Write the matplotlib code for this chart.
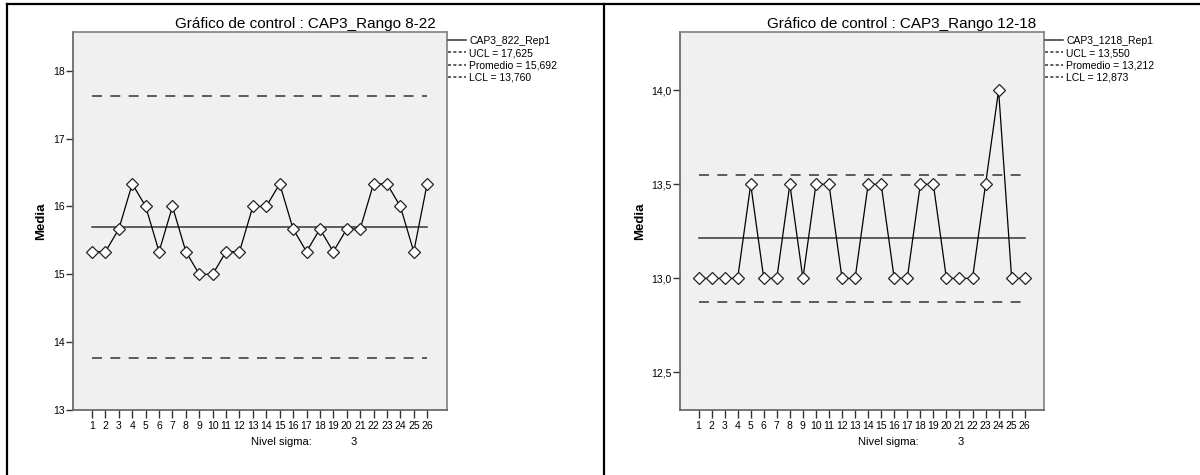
import numpy as np
import matplotlib
matplotlib.use("Agg")
import matplotlib.pyplot as plt
from matplotlib.lines import Line2D

plt.rcParams['font.family'] = ['Liberation Sans', 'DejaVu Sans']
NARROW = ['Liberation Sans Narrow', 'Liberation Sans', 'DejaVu Sans']

# data
muestras = list(range(1, 27))

titulo_a = 'Gráfico de control : CAP3_Rango 8-22'
serie_a = 'CAP3_822_Rep1'
media_a = [15.333, 15.333, 15.667, 16.333, 16.0, 15.333, 16.0, 15.333, 15.0, 15.0,
           15.333, 15.333, 16.0, 16.0, 16.333, 15.667, 15.333, 15.667, 15.333, 15.667,
           15.667, 16.333, 16.333, 16.0, 15.333, 16.333]
ucl_a, prom_a, lcl_a = 17.625, 15.692, 13.760
yticks_a = [13, 14, 15, 16, 17, 18]
ytlab_a = ['13', '14', '15', '16', '17', '18']

titulo_b = 'Gráfico de control : CAP3_Rango 12-18'
serie_b = 'CAP3_1218_Rep1'
media_b = [13.0, 13.0, 13.0, 13.0, 13.5, 13.0, 13.0, 13.5, 13.0, 13.5,
           13.5, 13.0, 13.0, 13.5, 13.5, 13.0, 13.0, 13.5, 13.5, 13.0,
           13.0, 13.0, 13.5, 14.0, 13.0, 13.0]
ucl_b, prom_b, lcl_b = 13.550, 13.212, 12.873
yticks_b = [12.5, 13.0, 13.5, 14.0]
ytlab_b = ['12,5', '13,0', '13,5', '14,0']

sigma = 3

W, H = 1200, 475
fig = plt.figure(figsize=(W / 100, H / 100), dpi=100)


def fx(px):
    return px / W


def fy(py):
    return 1 - py / H


def coma(v):
    return f'{v:.3f}'.replace('.', ',')


def panel(x0, ax_l, ax_r, titulo, serie, vals, ucl, prom, lcl, ylim, yt, ytl):
    ax = fig.add_axes([fx(ax_l), fy(410), fx(ax_r - ax_l), fy(32) - fy(410)])
    ax.set_facecolor('#f0f0f0')
    x = np.array(muestras)
    dash = (0, (6.5, 5.5))
    ax.plot([x[0], x[-1]], [ucl, ucl], color='#333333', lw=1.1, ls=dash)
    ax.plot([x[0], x[-1]], [lcl, lcl], color='#333333', lw=1.1, ls=dash)
    ax.plot([x[0], x[-1]], [prom, prom], color='#333333', lw=1.1)
    ax.plot(x, vals, color='black', lw=0.9, marker='D', ms=6.3,
            mfc='white', mec='#222222', mew=0.9, zorder=3)
    ax.set_xlim(-0.42, 27.48)
    ax.set_ylim(*ylim)
    ax.set_xticks(x)
    ax.set_xticklabels([str(i) for i in x], fontsize=7.5, family=NARROW)
    ax.set_yticks(yt)
    ax.set_yticklabels(ytl, fontsize=7.5, family=NARROW)
    ax.tick_params(axis='x', length=6, width=1, color='#333333', pad=2)
    ax.tick_params(axis='y', length=5, width=1, color='#333333', pad=1)
    for k, s in ax.spines.items():
        s.set_color('#606060' if k in ('left', 'bottom') else '#808080')
        s.set_linewidth(1.2)
    ax.set_ylabel('Media', fontsize=9.5, fontweight='bold', labelpad=4)
    # title centered on the panel
    fig.text(fx(x0 + 298), fy(24), titulo, ha='center', va='center', fontsize=11)
    fig.text(fx(ax_l + 178), fy(442), 'Nivel sigma:', ha='left', va='center',
             fontsize=8, family=NARROW)
    fig.text(fx(ax_l + 281), fy(442), str(sigma), ha='center', va='center',
             fontsize=8, family=NARROW)
    handles = [Line2D([], [], color='#333333', lw=1.1),
               Line2D([], [], color='#333333', lw=1.1, ls=(0, (2, 1.5))),
               Line2D([], [], color='#333333', lw=1.1, ls=(0, (2, 1.5))),
               Line2D([], [], color='#333333', lw=1.1, ls=(0, (2, 1.5)))]
    labels = [serie, 'UCL = ' + coma(ucl), 'Promedio = ' + coma(prom),
              'LCL = ' + coma(lcl)]
    fig.legend(handles, labels, loc='upper left',
               bbox_to_anchor=(fx(ax_r + 1), fy(36)), frameon=False,
               handlelength=1.7, handletextpad=0.35,
               labelspacing=0.2, borderaxespad=0, borderpad=0,
               prop={'family': NARROW, 'size': 7.5})
    return ax


panel(7, 73, 447, titulo_a, serie_a, media_a, ucl_a, prom_a, lcl_a,
      (13.0, 18.57), yticks_a, ytlab_a)
panel(604, 680, 1044, titulo_b, serie_b, media_b, ucl_b, prom_b, lcl_b,
      (12.30, 14.31), yticks_b, ytlab_b)

# outer table frame
fig.add_artist(Line2D([fx(7), fx(1200)], [fy(4), fy(4)], color='black', lw=1.6))
fig.add_artist(Line2D([fx(7), fx(7)], [fy(4), fy(475)], color='black', lw=1.6))
fig.add_artist(Line2D([fx(604), fx(604)], [fy(4), fy(475)], color='black', lw=1.6))

fig.savefig('out.png', dpi=100)
